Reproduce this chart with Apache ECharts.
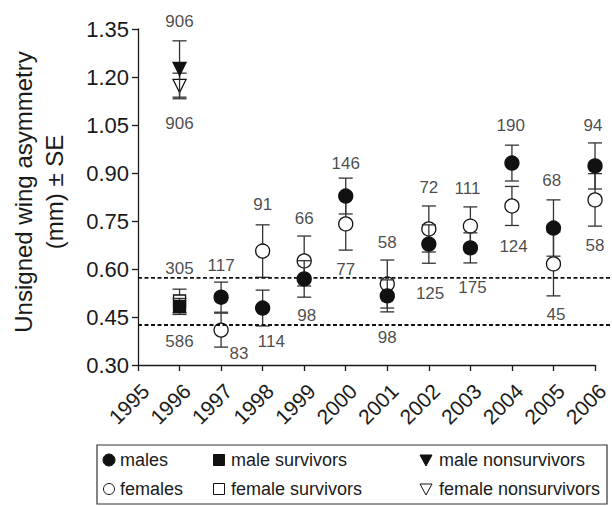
<!DOCTYPE html>
<html><head><meta charset="utf-8">
<script src="https://cdn.jsdelivr.net/npm/echarts@6/dist/echarts.min.js"></script>
<style>html,body{margin:0;padding:0;background:#fff;}#c{width:612px;height:506px;}</style>
</head><body><div id="c"></div>
<script>
// ---------- data ----------
const yearMin = 1995, yearMax = 2006, yearStep = 1;
const yMin = 0.30, yMax = 1.35, yStep = 0.15;

const sexYears = [1997, 1998, 1999, 2000, 2001, 2002, 2003, 2004, 2005, 2006];
const malesMean   = [0.512, 0.478, 0.569, 0.828, 0.516, 0.678, 0.666, 0.931, 0.728, 0.922];
const malesSE     = [0.047, 0.056, 0.057, 0.056, 0.050, 0.060, 0.047, 0.056, 0.088, 0.072];
const femalesMean = [0.409, 0.656, 0.625, 0.741, 0.553, 0.725, 0.734, 0.797, 0.616, 0.816];
const femalesSE   = [0.053, 0.082, 0.078, 0.082, 0.075, 0.072, 0.060, 0.061, 0.100, 0.082];

const survivalYears = [1996];
const maleSurvivorsMean = [0.483];
const maleSurvivorsSE = [0.025];
const femaleSurvivorsMean = [0.500];
const femaleSurvivorsSE = [0.037];
const maleNonsurvivorsMean = [1.225];
const maleNonsurvivorsSE = [0.088];
const femaleNonsurvivorsMean = [1.172];
const femaleNonsurvivorsSE = [0.040];

const referenceLevels = [0.572, 0.425];

const sampleYears  = [1996, 1996, 1996, 1996, 1997, 1997.43, 1998, 1998.21, 1999, 1999.06, 2000, 2000, 2001, 2001, 2002, 2002.03, 2002.93, 2003.05, 2003.97, 2004.04, 2004.96, 2005.06, 2005.95, 2006];
const sampleLevels = [1.375, 1.056, 0.603, 0.372, 0.6125, 0.3375, 0.803, 0.372, 0.759, 0.456, 0.931, 0.600, 0.684, 0.3875, 0.856, 0.522, 0.853, 0.541, 1.050, 0.669, 0.878, 0.459, 1.050, 0.672];
const sampleTexts  = ['906', '906', '305', '586', '117', '83', '91', '114', '66', '98', '146', '77', '58', '98', '72', '125', '111', '175', '190', '124', '68', '45', '94', '58'];

const legendRows = [
  ['males', 'male survivors', 'male nonsurvivors'],
  ['females', 'female survivors', 'female nonsurvivors']
];

// ---------- build ----------
const FONT = "'Liberation Sans', Arial, Helvetica, sans-serif";
const INK = '#1a1a1a';

function points(years, means) { return years.map((y, i) => [y, means[i]]); }
function bars(years, means, se) { return years.map((y, i) => [y, means[i] - se[i], means[i] + se[i]]); }

function errorSeries(data, z) {
  return {
    type: 'custom', z: z, silent: true, clip: false,
    encode: { x: 0, y: [1, 2] },
    data: data,
    renderItem: function (params, api) {
      const x = api.value(0);
      const a = api.coord([x, api.value(2)]);
      const b = api.coord([x, api.value(1)]);
      const c = 7;
      const st = { stroke: '#333', lineWidth: 1.3 };
      return {
        type: 'group',
        children: [
          { type: 'line', shape: { x1: a[0], y1: a[1], x2: b[0], y2: b[1] }, style: st },
          { type: 'line', shape: { x1: a[0] - c, y1: a[1], x2: a[0] + c, y2: a[1] }, style: st },
          { type: 'line', shape: { x1: b[0] - c, y1: b[1], x2: b[0] + c, y2: b[1] }, style: st }
        ]
      };
    }
  };
}

function markerSeries(name, data, symbol, size, filled, z, rotate) {
  return {
    name: name, type: 'scatter', z: z, silent: true,
    symbol: symbol, symbolSize: size, symbolRotate: rotate || 0,
    data: data,
    itemStyle: { color: filled ? '#111' : '#fff', borderColor: '#111', borderWidth: 1.3, opacity: 1 },
    emphasis: { disabled: true }
  };
}

const series = [
  errorSeries(bars(sexYears, femalesMean, femalesSE), 1),
  markerSeries('females', points(sexYears, femalesMean), 'circle', 14, false, 2),
  errorSeries(bars(sexYears, malesMean, malesSE), 3),
  markerSeries('males', points(sexYears, malesMean), 'circle', 14, true, 4),

  errorSeries(bars(survivalYears, femaleSurvivorsMean, femaleSurvivorsSE), 1),
  markerSeries('female survivors', points(survivalYears, femaleSurvivorsMean), 'rect', 12, false, 2),
  errorSeries(bars(survivalYears, maleSurvivorsMean, maleSurvivorsSE), 3),
  markerSeries('male survivors', points(survivalYears, maleSurvivorsMean), 'rect', 12, true, 4),

  errorSeries(bars(survivalYears, femaleNonsurvivorsMean, femaleNonsurvivorsSE), 1),
  markerSeries('female nonsurvivors', points(survivalYears, femaleNonsurvivorsMean), 'triangle', 13, false, 2, 180),
  errorSeries(bars(survivalYears, maleNonsurvivorsMean, maleNonsurvivorsSE), 3),
  markerSeries('male nonsurvivors', points(survivalYears, maleNonsurvivorsMean), 'triangle', 13, true, 4, 180),

  {
    type: 'custom', z: 5, silent: true, clip: false,
    encode: { x: 0, y: 1 },
    data: referenceLevels.map(v => [yearMin, v]),
    renderItem: function (params, api) {
      const p = api.coord([api.value(0), api.value(1)]);
      return { type: 'line', shape: { x1: p[0], y1: p[1], x2: api.getWidth(), y2: p[1] },
        style: { stroke: '#111', lineWidth: 1.8, lineDash: [4, 2.5] } };
    }
  },
  {
    type: 'scatter', z: 6, silent: true, clip: false,
    symbol: 'circle', symbolSize: 1,
    itemStyle: { color: 'rgba(0,0,0,0)' },
    data: sampleYears.map((y, i) => [y, sampleLevels[i]]),
    label: {
      show: true, position: 'inside',
      formatter: p => sampleTexts[p.dataIndex],
      fontFamily: FONT, fontSize: 17, color: INK
    },
    emphasis: { disabled: true }
  }
];

// legend (drawn as graphic)
const L = { x: 97, y: 445, w: 510, h: 59, rows: [460, 489], mk: [109, 219, 426], tx: [120, 231, 439] };
const legendGraphic = [
  { type: 'rect', shape: { x: L.x, y: L.y, width: L.w, height: L.h }, style: { fill: '#fff', stroke: '#333', lineWidth: 1.2 } }
];
function legendMarker(col, row) {
  const cx = L.mk[col], cy = L.rows[row];
  const filled = row === 0;
  const st = { fill: filled ? '#111' : '#fff', stroke: '#111', lineWidth: 1 };
  if (col === 0) return { type: 'circle', shape: { cx: cx, cy: cy, r: filled ? 6 : 5.5 }, style: st };
  if (col === 1) return { type: 'rect', shape: { x: cx - 5.5, y: cy - 5.5, width: 11, height: 11 }, style: st };
  return { type: 'polygon', shape: { points: [[cx - 6, cy - 5], [cx + 6, cy - 5], [cx, cy + 6]] }, style: st };
}
legendRows.forEach((row, r) => {
  row.forEach((label, c) => {
    legendGraphic.push(legendMarker(c, r));
    legendGraphic.push({ type: 'text', x: L.tx[c], y: L.rows[r],
      style: { text: label, font: "18px 'Liberation Sans', Arial, sans-serif", fill: INK, textAlign: 'left', textVerticalAlign: 'middle', align: 'left', verticalAlign: 'middle' } });
  });
});

const chart = echarts.init(document.getElementById('c'), null, { renderer: 'svg' });
chart.setOption({
  animation: false,
  backgroundColor: '#fff',
  grid: { left: 137, right: 9, top: 29, bottom: 141, containLabel: false },
  xAxis: {
    type: 'value', min: yearMin, max: yearMax, interval: yearStep,
    splitLine: { show: false },
    axisLine: { onZero: false, lineStyle: { color: INK, width: 1.3 } },
    axisTick: { length: 6, lineStyle: { color: INK, width: 1.3 } },
    axisLabel: { rotate: 45, margin: 15, verticalAlign: 'top', align: 'right', fontFamily: FONT, fontSize: 21, color: INK, formatter: v => String(v) }
  },
  yAxis: {
    type: 'value', min: yMin, max: yMax, interval: yStep,
    name: 'Unsigned wing asymmetry\n(mm) ± SE',
    nameLocation: 'middle', nameRotate: 90, nameGap: 68,
    nameTextStyle: { fontFamily: FONT, fontSize: 24, color: INK, lineHeight: 31, padding: [0, 0, 0, 10] },
    splitLine: { show: false },
    axisLine: { show: true, lineStyle: { color: INK, width: 1.3 } },
    axisTick: { show: true, length: 6, lineStyle: { color: INK, width: 1.3 } },
    axisLabel: { margin: 9, fontFamily: FONT, fontSize: 22, color: INK, formatter: v => v.toFixed(2) }
  },
  series: series,
  graphic: legendGraphic
});
</script></body></html>
